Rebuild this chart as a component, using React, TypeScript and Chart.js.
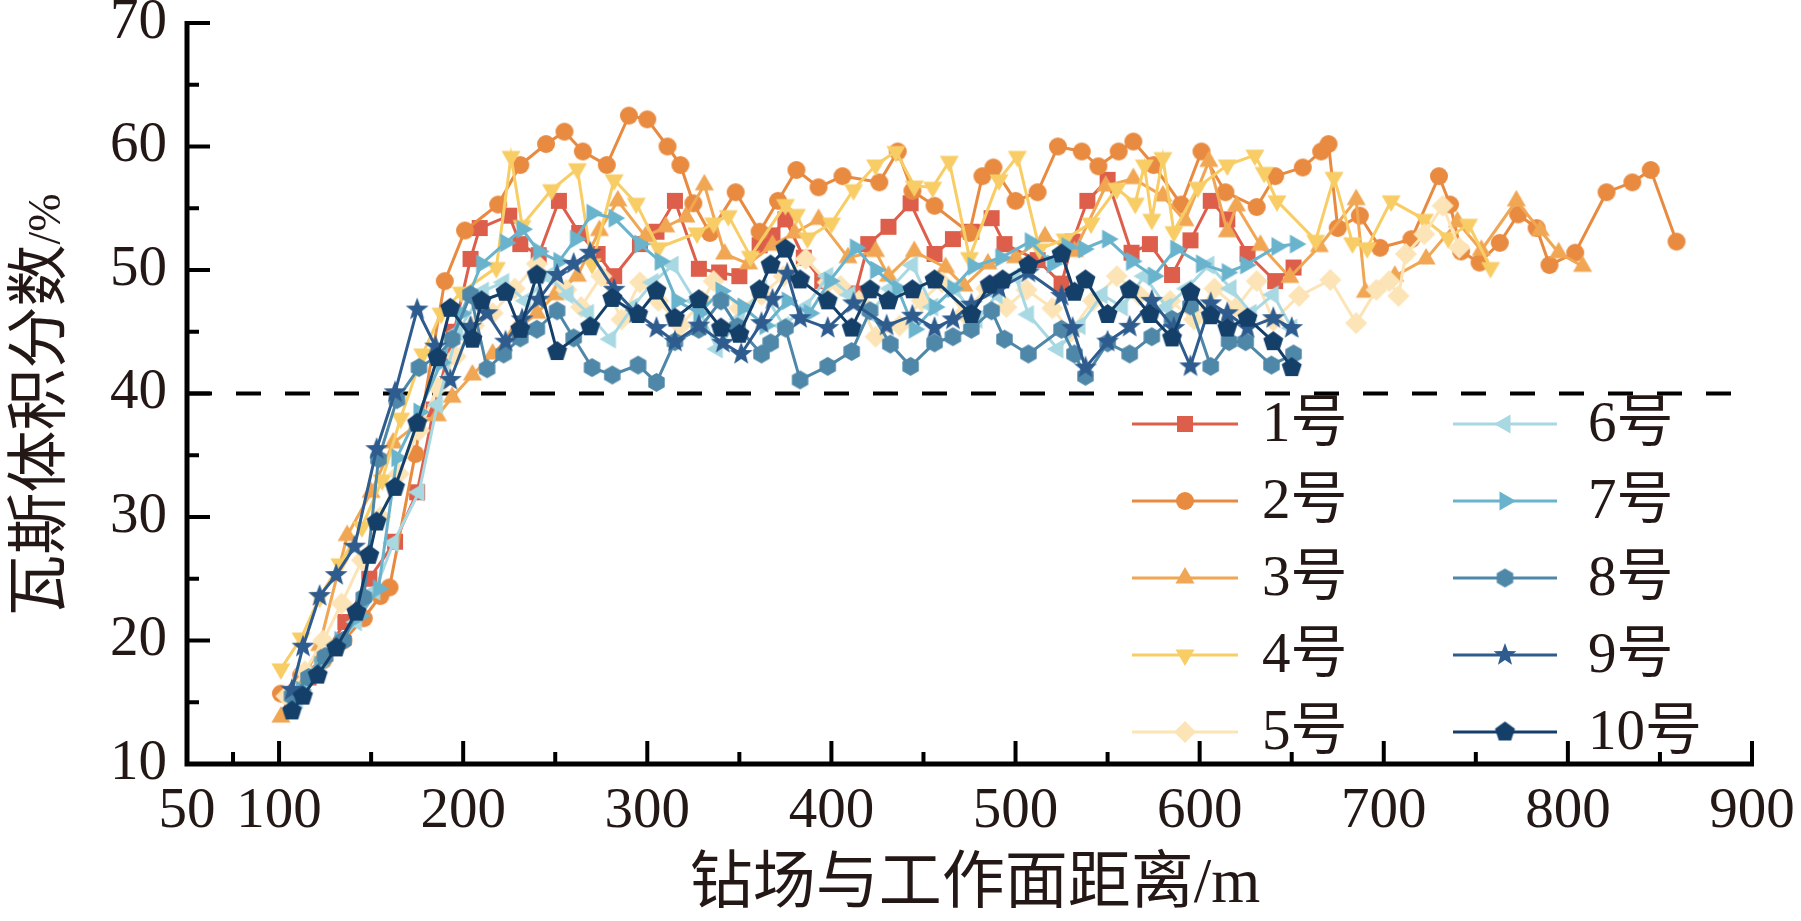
import { useEffect, useRef } from "react";
import { Chart, LineController, LineElement, PointElement, LinearScale } from "chart.js";

Chart.register(LineController, LineElement, PointElement, LinearScale);

const SERIF = '"Liberation Serif", "Times New Roman", serif';
const CJK = '"Liberation Serif", "Noto Sans CJK SC", serif';
const INK = "#231815";
Chart.defaults.font.family = SERIF;

// distance from face (m) and gas concentration (%) for each drill site
const dist1 = [107, 116, 125, 136, 149, 163, 175, 184, 195, 204, 209, 225, 231, 241, 252, 263, 273, 282, 296, 305, 315, 328, 339, 350, 361, 368, 375, 385, 395, 413, 420, 431, 443, 456, 466, 476, 487, 494, 512, 525, 531, 539, 550, 563, 573, 585, 595, 606, 615, 626, 641, 651];
const gas1 = [15.2, 17.0, 19.0, 21.5, 25.0, 28.0, 32.0, 38.7, 45.0, 50.9, 53.4, 54.4, 52.1, 51.2, 55.6, 53.0, 51.3, 49.5, 52.1, 53.1, 55.6, 50.1, 49.8, 49.5, 52.0, 52.8, 54.1, 51.0, 49.1, 48.1, 52.1, 53.5, 55.4, 51.3, 52.5, 53.1, 54.2, 52.1, 50.8, 48.9, 52.3, 55.6, 57.3, 51.4, 52.1, 49.6, 52.4, 55.6, 54.1, 51.3, 49.1, 50.2];

const dist2 = [101, 112, 124, 135, 146, 155, 160, 174, 190, 201, 219, 231, 245, 255, 265, 278, 290, 300, 311, 318, 325, 334, 348, 361, 371, 381, 393, 406, 426, 436, 444, 456, 475, 482, 488, 500, 512, 523, 536, 545, 556, 564, 575, 590, 601, 614, 631, 641, 656, 666, 670, 675, 687, 698, 715, 730, 736, 742, 752, 763, 773, 783, 790, 804, 821, 835, 845, 859];
const gas2 = [15.7, 17.2, 18.4, 20.0, 21.8, 23.6, 24.3, 35.1, 49.1, 53.2, 55.3, 58.5, 60.2, 61.2, 59.6, 58.5, 62.5, 62.2, 60.0, 58.5, 55.4, 53.0, 56.3, 53.1, 55.6, 58.1, 56.7, 57.6, 57.1, 59.6, 56.4, 55.2, 53.0, 57.6, 58.3, 55.6, 56.3, 60.0, 59.6, 58.4, 59.6, 60.4, 58.5, 55.3, 59.6, 56.3, 55.1, 57.6, 58.3, 59.6, 60.2, 53.4, 54.4, 51.8, 52.5, 57.6, 55.3, 51.5, 50.6, 52.2, 54.5, 53.4, 50.4, 51.4, 56.3, 57.1, 58.1, 52.3];

const dist3 = [101, 112, 122, 137, 150, 162, 175, 186, 194, 205, 216, 228, 240, 250, 262, 274, 284, 299, 310, 321, 331, 342, 355, 368, 380, 393, 409, 424, 431, 445, 462, 472, 485, 500, 516, 532, 549, 564, 580, 592, 605, 615, 620, 633, 649, 665, 685, 690, 706, 723, 740, 753, 772, 785, 795, 808];
const gas3 = [13.8, 16.5, 19.6, 28.5, 32.0, 36.0, 37.5, 38.2, 39.7, 41.5, 43.2, 45.0, 46.5, 48.0, 49.5, 53.2, 55.6, 52.7, 53.5, 54.3, 56.9, 51.3, 50.5, 52.0, 53.0, 54.1, 51.0, 51.5, 49.5, 51.5, 50.2, 48.7, 50.5, 51.0, 52.7, 51.5, 56.8, 57.4, 56.0, 54.0, 58.8, 53.1, 55.2, 52.0, 49.4, 51.9, 55.7, 48.2, 49.5, 50.9, 53.9, 51.6, 55.6, 53.2, 51.4, 50.3];

const dist4 = [101, 112, 122, 133, 145, 156, 166, 178, 188, 199, 218, 226, 232, 248, 262, 270, 282, 294, 306, 327, 336, 344, 356, 375, 381, 387, 400, 412, 424, 435, 445, 455, 464, 475, 491, 501, 513, 527, 541, 555, 565, 570, 574, 580, 586, 599, 615, 630, 635, 642, 663, 673, 683, 691, 704, 722, 735, 746, 758];
const gas4 = [17.7, 20.2, 23.5, 26.2, 29.2, 33.0, 38.0, 43.2, 46.5, 48.2, 50.2, 59.2, 53.6, 56.5, 58.2, 50.5, 57.3, 55.4, 51.8, 53.0, 53.8, 54.4, 51.1, 55.3, 54.5, 52.6, 53.8, 56.5, 58.5, 59.6, 56.8, 56.7, 58.8, 51.0, 57.3, 59.2, 51.7, 52.5, 53.8, 56.6, 55.4, 58.5, 54.1, 59.1, 53.1, 56.7, 58.5, 59.3, 57.9, 55.6, 52.4, 57.5, 52.2, 51.8, 55.6, 54.1, 52.6, 53.7, 50.2];

const dist5 = [104, 114, 124, 134, 145, 155, 165, 176, 186, 196, 206, 216, 228, 240, 256, 264, 275, 286, 296, 306, 318, 330, 336, 350, 362, 374, 386, 398, 405, 415, 424, 437, 449, 460, 472, 484, 495, 506, 520, 530, 542, 555, 567, 584, 597, 608, 620, 631, 640, 654, 671, 685, 696, 703, 708, 712, 722, 732, 741];
const gas5 = [15.5, 17.5, 20.0, 23.0, 26.5, 30.0, 33.5, 37.0, 40.5, 43.0, 45.5, 46.5, 48.5, 50.5, 48.4, 47.0, 49.5, 46.0, 49.0, 47.5, 45.5, 47.5, 49.1, 46.9, 48.0, 49.5, 50.9, 49.0, 48.7, 47.5, 44.6, 45.5, 47.5, 49.0, 46.5, 48.5, 47.0, 48.4, 46.9, 45.0, 47.5, 49.5, 48.0, 47.5, 46.0, 48.5, 47.0, 49.1, 45.9, 47.9, 49.2, 45.7, 48.4, 49.1, 47.9, 51.3, 52.9, 55.2, 51.8];

const dist6 = [110, 120, 131, 142, 152, 162, 176, 186, 197, 211, 222, 234, 246, 257, 268, 280, 292, 303, 314, 326, 338, 350, 362, 374, 386, 398, 410, 421, 432, 444, 455, 467, 479, 490, 500, 507, 523, 535, 547, 558, 570, 582, 593, 605, 617, 628, 640, 650];
const gas6 = [15.2, 17.5, 19.5, 21.5, 24.0, 27.9, 32.0, 39.1, 45.0, 48.3, 49.0, 47.5, 49.5, 48.0, 46.5, 44.4, 47.0, 49.0, 50.4, 47.5, 43.6, 46.0, 48.5, 45.5, 47.0, 49.5, 48.0, 46.5, 48.5, 50.4, 47.0, 48.5, 46.0, 48.0, 49.5, 46.4, 43.6, 45.5, 48.0, 47.0, 49.5, 47.0, 48.5, 50.4, 48.5, 46.5, 48.0, 45.3];

const dist7 = [112, 122, 133, 144, 154, 164, 176, 188, 199, 210, 223, 232, 241, 252, 261, 270, 282, 296, 307, 316, 328, 340, 352, 364, 376, 388, 399, 413, 424, 436, 445, 456, 466, 477, 492, 508, 520, 528, 537, 550, 563, 575, 587, 601, 615, 625, 642, 652];
const gas7 = [16.0, 18.0, 20.0, 22.0, 24.2, 34.8, 38.5, 42.5, 46.5, 50.5, 52.2, 53.3, 51.5, 50.7, 52.5, 54.6, 54.2, 52.1, 50.7, 47.5, 46.5, 48.3, 47.0, 45.5, 47.5, 46.5, 49.1, 51.8, 50.0, 48.5, 45.2, 47.0, 48.5, 50.3, 51.0, 52.3, 50.5, 51.9, 51.7, 52.5, 50.7, 49.5, 51.7, 50.5, 49.8, 50.4, 51.9, 52.1];

const dist8 = [107, 116, 125, 135, 146, 154, 164, 176, 186, 194, 204, 213, 222, 231, 240, 251, 260, 270, 281, 295, 305, 315, 328, 340, 349, 362, 367, 375, 383, 398, 411, 421, 432, 443, 456, 466, 476, 487, 494, 507, 525, 532, 538, 550, 562, 574, 585, 595, 606, 616, 625, 639, 651];
const gas8 = [15.5, 17.0, 18.7, 20.0, 23.5, 34.7, 39.5, 42.1, 43.0, 44.4, 48.0, 42.0, 43.2, 44.5, 45.2, 46.7, 44.5, 42.1, 41.5, 42.3, 40.9, 44.2, 45.2, 47.5, 45.4, 43.2, 44.1, 45.3, 41.1, 42.2, 43.4, 46.7, 44.0, 42.2, 44.1, 44.6, 45.2, 46.7, 44.4, 43.2, 45.2, 43.2, 41.4, 44.1, 43.2, 44.6, 46.0, 47.1, 42.2, 44.2, 44.2, 42.3, 43.2];

const dist9 = [107, 113, 122, 131, 141, 153, 163, 175, 185, 193, 204, 213, 223, 232, 241, 251, 260, 269, 282, 294, 305, 315, 328, 341, 351, 362, 368, 376, 383, 398, 412, 430, 444, 456, 466, 476, 491, 507, 525, 531, 538, 550, 562, 574, 586, 595, 606, 615, 626, 640, 650];
const gas9 = [16.0, 19.5, 23.6, 25.3, 27.6, 35.5, 40.1, 46.8, 43.8, 41.1, 45.4, 46.5, 44.2, 46.0, 47.6, 49.6, 50.5, 51.4, 48.4, 46.5, 45.3, 44.2, 45.5, 44.1, 43.2, 45.7, 47.6, 49.7, 46.1, 45.3, 47.3, 45.5, 46.3, 45.3, 46.0, 47.2, 48.5, 49.8, 47.9, 45.3, 42.1, 44.2, 45.4, 47.5, 45.3, 42.2, 47.3, 46.5, 45.3, 46.1, 45.3];

const dist10 = [107, 113, 121, 131, 142, 149, 153, 163, 175, 186, 193, 205, 210, 223, 231, 240, 251, 269, 281, 295, 305, 315, 328, 340, 350, 361, 367, 375, 383, 398, 411, 421, 431, 444, 456, 476, 486, 493, 507, 525, 532, 538, 550, 562, 573, 585, 595, 606, 615, 626, 640, 650];
const gas10 = [14.3, 15.5, 17.2, 19.4, 22.3, 26.9, 29.6, 32.4, 37.6, 42.9, 46.9, 44.4, 47.5, 48.2, 45.2, 49.6, 43.4, 45.4, 47.7, 46.4, 48.3, 46.1, 47.6, 45.3, 44.8, 48.4, 50.4, 51.7, 49.2, 47.5, 45.3, 48.4, 47.5, 48.4, 49.2, 46.4, 48.8, 49.2, 50.4, 51.3, 48.2, 49.2, 46.4, 48.4, 46.4, 44.5, 48.2, 46.3, 45.3, 46.1, 44.2, 42.1];

const distances = [dist1, dist2, dist3, dist4, dist5, dist6, dist7, dist8, dist9, dist10];
const gases = [gas1, gas2, gas3, gas4, gas5, gas6, gas7, gas8, gas9, gas10];

const seriesNames = ["1号", "2号", "3号", "4号", "5号", "6号", "7号", "8号", "9号", "10号"];
const seriesColors = ["#DD5F4B", "#E88A40", "#F0A653", "#F8CD66", "#FCE4B6", "#A8D8E2", "#6AB3CD", "#4E87A8", "#2F5C8E", "#143F69"];
const seriesShapes = ["square", "circle", "up", "down", "diamond", "left", "right", "hexagon", "star", "pentagon"];
const markerSizes = [16, 18, 22, 22, 22, 22, 22, 19, 24, 21];

const xLabels = [50, 100, 200, 300, 400, 500, 600, 700, 800, 900];
const xMajor = [100, 200, 300, 400, 500, 600, 700, 800, 900];
const xMinor = [75, 150, 250, 350, 450, 550, 650, 750, 850];
const yMajor = [10, 20, 30, 40, 50, 60, 70];
const yMinor = [15, 25, 35, 45, 55, 65];
const threshold = 40;

const xTitle = "钻场与工作面距离/m";
const yTitle = "瓦斯体积分数";
const yUnit = "/%";

function polygon(g: CanvasRenderingContext2D, c: number, r: number, n: number, start: number) {
  for (let i = 0; i < n; i++) {
    const a = start + (i * 2 * Math.PI) / n;
    const px = c + r * Math.cos(a);
    const py = c + r * Math.sin(a);
    if (i === 0) g.moveTo(px, py);
    else g.lineTo(px, py);
  }
  g.closePath();
}

function makeMarker(shape: string, color: string, size: number) {
  const cv = document.createElement("canvas");
  cv.width = cv.height = size + 6;
  const g = cv.getContext("2d")!;
  const c = cv.width / 2;
  const r = size / 2;
  g.fillStyle = color;
  g.beginPath();
  if (shape === "square") g.rect(c - r, c - r, size, size);
  else if (shape === "circle") g.arc(c, c, r, 0, Math.PI * 2);
  else if (shape === "up") polygon(g, c, r, 3, -Math.PI / 2);
  else if (shape === "down") polygon(g, c, r, 3, Math.PI / 2);
  else if (shape === "left") polygon(g, c, r, 3, Math.PI);
  else if (shape === "right") polygon(g, c, r, 3, 0);
  else if (shape === "diamond") polygon(g, c, r, 4, -Math.PI / 2);
  else if (shape === "hexagon") polygon(g, c, r, 6, -Math.PI / 2);
  else if (shape === "pentagon") polygon(g, c, r, 5, -Math.PI / 2);
  else if (shape === "star") {
    for (let i = 0; i < 10; i++) {
      const a = -Math.PI / 2 + (i * Math.PI) / 5;
      const rr = i % 2 === 0 ? r : r * 0.42;
      const px = c + rr * Math.cos(a);
      const py = c + rr * Math.sin(a);
      if (i === 0) g.moveTo(px, py);
      else g.lineTo(px, py);
    }
    g.closePath();
  }
  g.fill();
  return cv;
}

const legendRows = [424, 501, 578, 655, 732];
const legendCols = [
  { x1: 1132, x2: 1238, text: 1262 },
  { x1: 1453, x2: 1557, text: 1588 },
];

function makeDecor(markers: HTMLCanvasElement[]) {
  return {
    id: "decor",
    beforeDatasetsDraw(chart: any) {
      const { ctx, chartArea: a, scales } = chart;
      const py = scales.y.getPixelForValue(threshold);
      ctx.save();
      ctx.strokeStyle = "#000";
      ctx.lineWidth = 4;
      ctx.setLineDash([25, 24]);
      ctx.beginPath();
      ctx.moveTo(a.left, py);
      ctx.lineTo(a.right, py);
      ctx.stroke();
      ctx.restore();
    },
    afterDatasetsDraw(chart: any) {
      const { ctx, chartArea: a, scales } = chart;
      ctx.save();
      ctx.strokeStyle = "#000";
      ctx.lineWidth = 5;
      ctx.beginPath();
      ctx.moveTo(a.left, a.top - 2);
      ctx.lineTo(a.left, a.bottom + 2.5);
      ctx.moveTo(a.left - 2.5, a.bottom);
      ctx.lineTo(a.right + 2, a.bottom);
      ctx.stroke();
      ctx.lineWidth = 4;
      ctx.beginPath();
      const yTick = (v: number, len: number) => {
        const p = scales.y.getPixelForValue(v);
        ctx.moveTo(a.left, p);
        ctx.lineTo(a.left + len, p);
      };
      const xTick = (v: number, len: number) => {
        const p = scales.x.getPixelForValue(v);
        ctx.moveTo(p, a.bottom);
        ctx.lineTo(p, a.bottom - len);
      };
      yMajor.forEach((v) => yTick(v, 23));
      yMinor.forEach((v) => yTick(v, 12));
      xMajor.forEach((v) => xTick(v, 23));
      xMinor.forEach((v) => xTick(v, 12));
      ctx.stroke();
      ctx.restore();
    },
    afterDraw(chart: any) {
      const { ctx } = chart;
      ctx.save();
      ctx.fillStyle = INK;

      // x title
      ctx.font = `63px ${CJK}`;
      ctx.textAlign = "center";
      ctx.textBaseline = "middle";
      ctx.fillText(xTitle, 975, 885);

      // y title, rotated, with smaller unit
      ctx.translate(37, 405);
      ctx.rotate(-Math.PI / 2);
      ctx.textAlign = "left";
      ctx.textBaseline = "alphabetic";
      ctx.font = `62px ${CJK}`;
      const w1 = ctx.measureText(yTitle).width;
      ctx.font = `46px ${SERIF}`;
      const w2 = ctx.measureText(yUnit).width;
      const start = -(w1 + w2) / 2;
      ctx.font = `62px ${CJK}`;
      ctx.fillText(yTitle, start, 23);
      ctx.font = `46px ${SERIF}`;
      ctx.fillText(yUnit, start + w1, 23);
      ctx.setTransform(1, 0, 0, 1, 0, 0);

      // legend in two columns
      ctx.font = `57px ${CJK}`;
      ctx.textAlign = "left";
      ctx.textBaseline = "middle";
      seriesNames.forEach((name, i) => {
        const col = legendCols[Math.floor(i / 5)];
        const y = legendRows[i % 5];
        ctx.strokeStyle = seriesColors[i];
        ctx.lineWidth = 3;
        ctx.beginPath();
        ctx.moveTo(col.x1, y);
        ctx.lineTo(col.x2, y);
        ctx.stroke();
        const m = markers[i];
        ctx.drawImage(m, (col.x1 + col.x2) / 2 - m.width / 2, y - m.height / 2);
        ctx.fillStyle = INK;
        ctx.fillText(name, col.text, y + 2);
      });
      ctx.restore();
    },
  };
}

export default function App() {
  const ref = useRef<HTMLCanvasElement>(null);

  useEffect(() => {
    document.body.style.margin = "0";
    document.body.style.overflow = "hidden";
    if (!ref.current) return;
    const markers = seriesShapes.map((s, i) => makeMarker(s, seriesColors[i], markerSizes[i]));
    const datasets = distances.map((xs, i) => ({
      label: seriesNames[i],
      data: xs.map((x, j) => ({ x, y: gases[i][j] })),
      borderColor: seriesColors[i],
      backgroundColor: seriesColors[i],
      borderWidth: 3,
      pointStyle: markers[i],
      pointRadius: 9,
      tension: 0,
      order: 10 - i,
    }));

    const chart = new Chart(ref.current, {
      type: "line",
      data: { datasets },
      plugins: [makeDecor(markers)],
      options: {
        responsive: false,
        animation: false,
        devicePixelRatio: 1,
        events: [],
        layout: { padding: { top: 23, right: 49, left: 0, bottom: 0 } },
        plugins: { legend: { display: false }, tooltip: { enabled: false } } as any,
        scales: {
          x: {
            type: "linear",
            min: 50,
            max: 900,
            grid: { display: false, drawTicks: false },
            border: { display: false },
            afterBuildTicks: (s: any) => {
              s.ticks = xLabels.map((v) => ({ value: v }));
            },
            afterFit: (s: any) => {
              s.height = 157;
              s.paddingLeft = 0;
              s.paddingRight = 0;
            },
            ticks: {
              autoSkip: false,
              maxRotation: 0,
              padding: 14,
              color: INK,
              font: { family: SERIF, size: 57 },
              callback: (v: any) => String(v),
            },
          },
          y: {
            type: "linear",
            min: 10,
            max: 70,
            grid: { display: false, drawTicks: false },
            border: { display: false },
            afterBuildTicks: (s: any) => {
              s.ticks = yMajor.map((v) => ({ value: v }));
            },
            afterFit: (s: any) => {
              s.width = 187;
              s.paddingTop = 0;
              s.paddingBottom = 0;
            },
            ticks: {
              autoSkip: false,
              padding: 20,
              color: INK,
              font: { family: SERIF, size: 57 },
              callback: (v: any) => String(v),
            },
          },
        },
      } as any,
    });
    return () => chart.destroy();
  }, []);

  return (
    <div style={{ position: "absolute", left: 0, top: 0, width: 1801, height: 921, background: "#fff" }}>
      <canvas ref={ref} width={1801} height={921} />
    </div>
  );
}
